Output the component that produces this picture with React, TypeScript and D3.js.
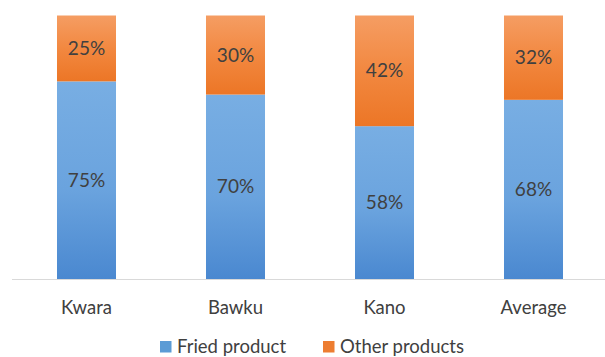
import React from "react";
import * as d3 from "d3";

const categories = ["Kwara", "Bawku", "Kano", "Average"];
const fried = [75, 70, 58, 68];
const other = [25, 30, 42, 32];
const seriesNames = ["Fried product", "Other products"];

const W = 605;
const H = 357;

export default function App() {
  const x = d3.scaleBand<string>().domain(categories).range([12, 608]).paddingInner(0.604).paddingOuter(0.302);
  const y = d3.scaleLinear().domain([0, 100]).range([279, 15.5]);
  const font = "Lato, 'Open Sans', sans-serif";
  const txt = "#404040";
  const stack = d3.stack<any>().keys(["fried", "other"])(
    categories.map((c, i) => ({ cat: c, fried: fried[i], other: other[i] }))
  );
  const fills = ["url(#gBlue)", "url(#gOrange)"];
  return (
    <svg width={W} height={H} style={{ position: "absolute", left: 0, top: 0, background: "#fff" }}>
      <defs>
        <linearGradient id="gBlue" x1="0" y1="0" x2="0" y2="1">
          <stop offset="0" stopColor="#78AEE3" />
          <stop offset="0.55" stopColor="#6AA3DE" />
          <stop offset="1" stopColor="#4A88D0" />
        </linearGradient>
        <linearGradient id="gOrange" x1="0" y1="0" x2="0" y2="1">
          <stop offset="0" stopColor="#F59D63" />
          <stop offset="0.5" stopColor="#F28840" />
          <stop offset="1" stopColor="#EC7626" />
        </linearGradient>
      </defs>
      <line x1={12} x2={605} y1={279.5} y2={279.5} stroke="#D9D9D9" strokeWidth={1} />
      {stack.map((s, si) =>
        s.map((d, i) => {
          const cat = categories[i];
          const y0 = y(d[1]);
          const y1 = y(d[0]);
          return (
            <g key={`${si}-${i}`}>
              <rect x={x(cat)} y={y0} width={x.bandwidth()} height={y1 - y0} fill={fills[si]} />
              <text
                x={(x(cat) as number) + x.bandwidth() / 2}
                y={(y0 + y1) / 2}
                dy="0.35em"
                textAnchor="middle"
                fontFamily={font}
                fontSize={19}
                fill={txt}
              >
                {`${d[1] - d[0]}%`}
              </text>
            </g>
          );
        })
      )}
      {categories.map((c) => (
        <text
          key={c}
          x={(x(c) as number) + x.bandwidth() / 2}
          y={314}
          textAnchor="middle"
          fontFamily={font}
          fontSize={18.5}
          fill={txt}
        >
          {c}
        </text>
      ))}
      <g>
        <rect x={160} y={341} width={11.5} height={11.5} fill="#5B9BD5" />
        <text x={177} y={353} fontFamily={font} fontSize={18.5} fill={txt}>{seriesNames[0]}</text>
        <rect x={323} y={341} width={11.5} height={11.5} fill="#ED7D31" />
        <text x={340} y={353} fontFamily={font} fontSize={18.5} fill={txt}>{seriesNames[1]}</text>
      </g>
    </svg>
  );
}
